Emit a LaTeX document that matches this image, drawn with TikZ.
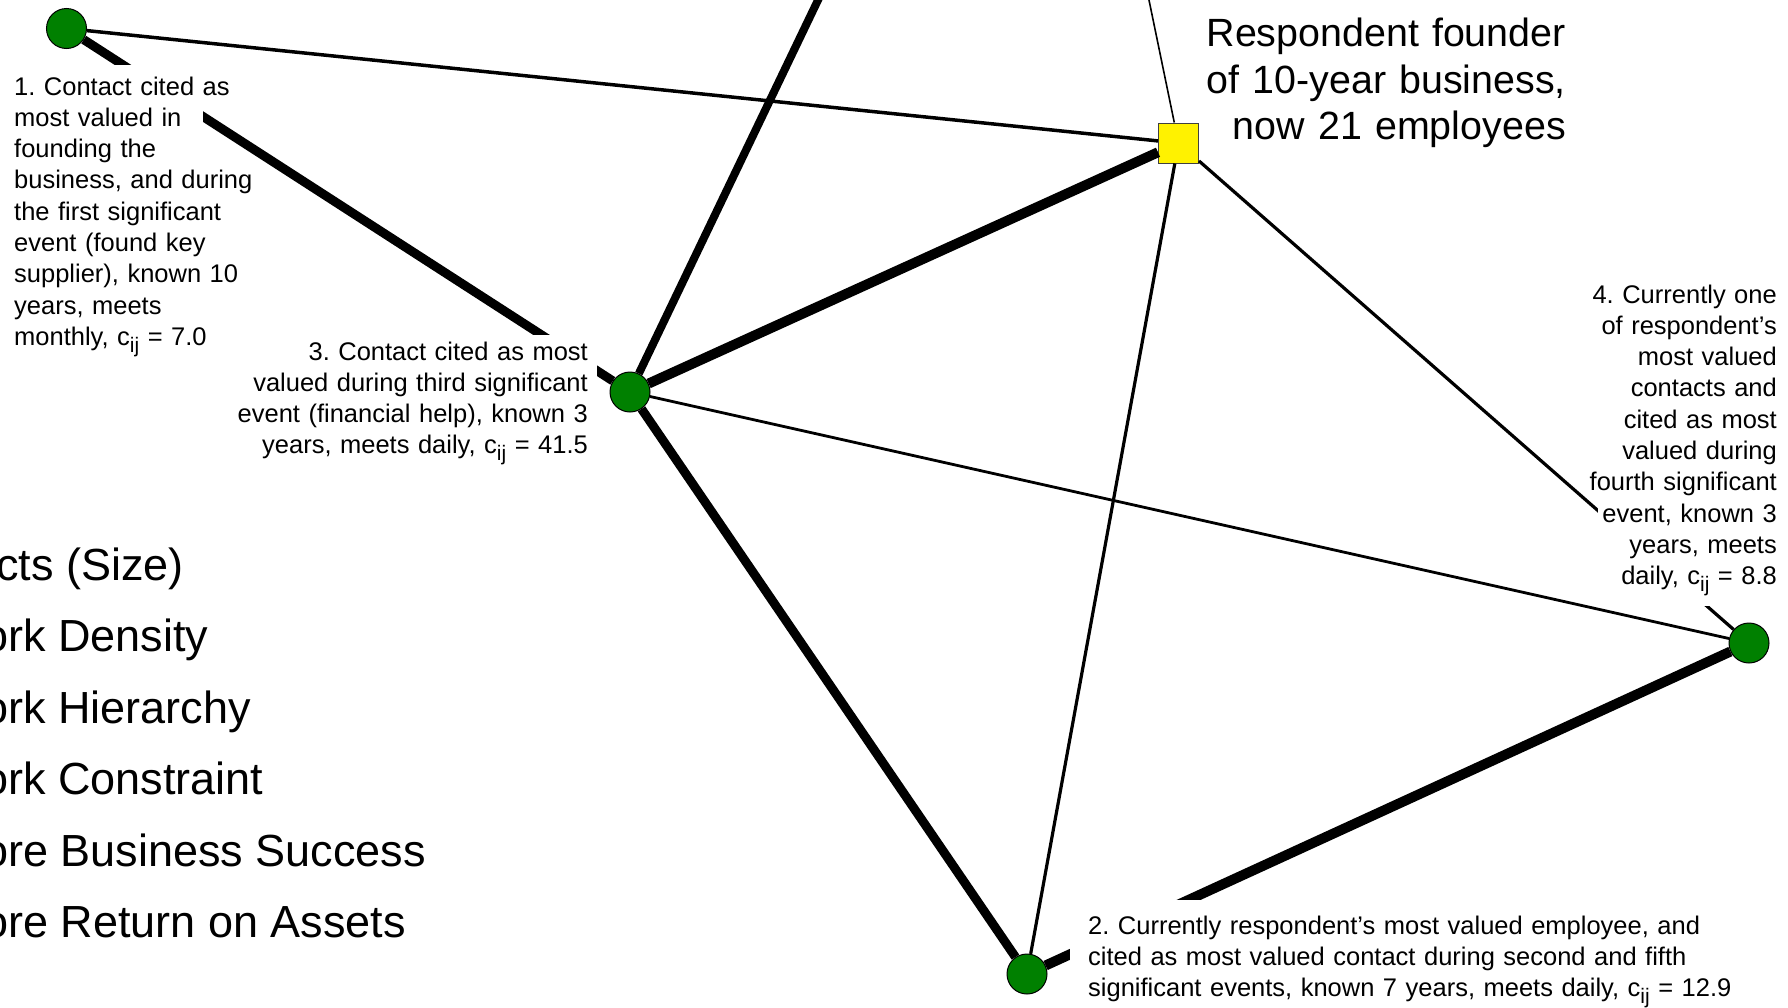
\documentclass[tikz,border=0pt]{standalone}
\usepackage{fontspec}
\setmainfont{Liberation Sans}
\frenchspacing
\definecolor{nodegreen}{RGB}{0,128,0}
\definecolor{sqyellow}{RGB}{255,242,0}
\newcommand{\cijsub}{c\raisebox{-7pt}{\fontsize{21}{21}\selectfont ij}}
\begin{document}
\begin{tikzpicture}[x=1pt,y=-1pt,
  contact/.style={circle, draw=black, line width=1pt, fill=nodegreen, minimum size=40pt, inner sep=0pt},
  resp/.style={rectangle, draw=black!75, line width=1pt, fill=sqyellow, minimum size=40pt, inner sep=0pt},
  tie/.style={draw=black, line cap=butt},
  mask/.style={fill=white},
  lab/.style={inner sep=0pt, font=\fontsize{25.5}{31.3}\selectfont, text width=#1},
  biglab/.style={inner sep=0pt, font=\fontsize{39.4}{46.7}\selectfont, text width=#1},
  leg/.style={inner sep=0pt, anchor=base west, font=\fontsize{45}{54}\selectfont}]
\path[use as bounding box] (0,0) rectangle (1788,1007);
\clip (0,0) rectangle (1788,1007);

% nodes
\node[contact] (c1) at (66.5,28.5) {};
\node[contact] (c2) at (1027,974) {};
\node[contact] (c3) at (630,392) {};
\node[contact] (c4) at (1749,643) {};
\node[resp] (r) at (1178.5,143) {};
\coordinate (off1) at (823.8,-12);
\coordinate (off2) at (1146.5,-12);

% ties
\draw[tie, line width=9pt] (c1) -- (c3);
\draw[tie, line width=3.5pt] (c1) -- (r);
\draw[tie, line width=8pt] (c3) -- (off1);
\draw[tie, line width=10pt] (c3) -- (r);
\draw[tie, line width=2.8pt] (c3) -- (c4);
\draw[tie, line width=9pt] (c3) -- (c2);
\draw[tie, line width=3.2pt] (r) -- (c2);
\draw[tie, line width=3.2pt] (r) -- (c4);
\draw[tie, line width=1.6pt] (r) -- (off2);
\draw[tie, line width=10pt] (c2) -- (c4);

% white label backgrounds
\fill[mask] (5,65) rectangle (203,355);
\fill[mask] (225,335) rectangle (597,462);
\fill[mask] (1598,280) rectangle (1788,606);
\fill[mask] (1070,900) rectangle (1788,1007);

% labels
\node[lab=300pt, align=left, anchor=base west] (l1) at (14,95)
  {1. Contact cited as\\most valued in\\founding the\\business, and during\\the first significant\\event (found key\\supplier), known 10\\years, meets\\monthly, \cijsub{} = 7.0};
\node[lab=380pt, align=right, anchor=base east] (l3) at (588,360)
  {3. Contact cited as most\\valued during third significant\\event (financial help), known 3\\years, meets daily, \cijsub{} = 41.5};
\node[lab=220pt, align=right, anchor=base east] (l4) at (1777,303)
  {4. Currently one\\of respondent’s\\most valued\\contacts and\\cited as most\\valued during\\fourth significant\\event, known 3\\years, meets\\daily, \cijsub{} = 8.8};
\node[lab=700pt, align=left, anchor=base west] (l2) at (1088,934)
  {2. Currently respondent’s most valued employee, and\\cited as most valued contact during second and fifth\\significant events, known 7 years, meets daily, \cijsub{} = 12.9};
\node[biglab=420pt, align=right, anchor=base east] (lr) at (1566,46.5)
  {Respondent founder\\of 10-year business,\\now 21 employees};

% legend (cut at left edge, as in the reference)
\node[leg] (g1) at (-4,580) {cts (Size)};
\node[leg] (g2) at (-17,651.5) {ork Density};
\node[leg] (g3) at (-17,723) {ork Hierarchy};
\node[leg] (g4) at (-17,794.5) {ork Constraint};
\node[leg] (g5) at (-17,866) {ore Business Success};
\node[leg] (g6) at (-17,937.5) {ore Return on Assets};
\end{tikzpicture}
\end{document}
